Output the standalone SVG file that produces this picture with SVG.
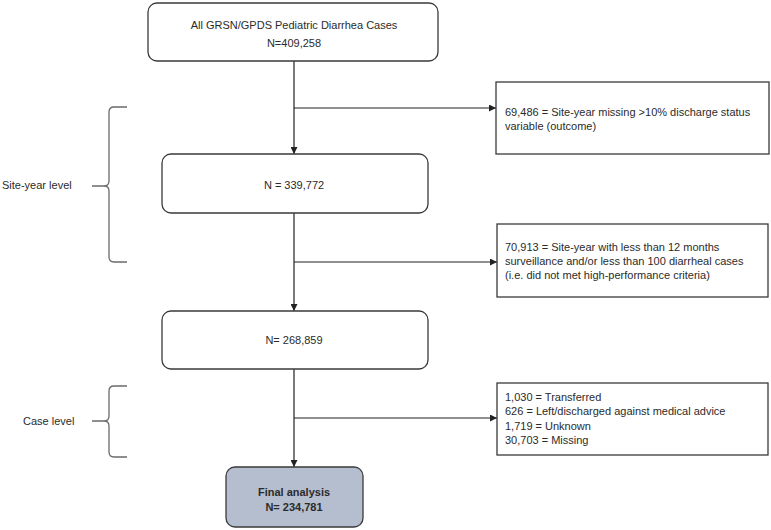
<svg xmlns="http://www.w3.org/2000/svg" width="771" height="530" viewBox="0 0 771 530">
<defs>
<style>
text{font-family:"Liberation Sans",Arial,sans-serif;font-size:11px;fill:#2b2b2b}
.c{text-anchor:middle}
.b{font-weight:bold}
.rr{fill:#fff;stroke:#3a3a3a;stroke-width:1.3}
.bx{fill:#fff;stroke:#3a3a3a;stroke-width:1.3}
.ln{fill:none;stroke:#222;stroke-width:1.2}
.br{fill:none;stroke:#6a6a6a;stroke-width:1.3}
</style>
<marker id="ah" viewBox="0 0 10 10" refX="10" refY="5" markerWidth="7" markerHeight="7" orient="auto" markerUnits="userSpaceOnUse">
<path d="M0,0 L10,5 L0,10 z" fill="#222"/>
</marker>
</defs>
<rect width="771" height="530" fill="#fff"/>
<g id="connectors">
<line class="ln" x1="294" y1="61" x2="294" y2="154" marker-end="url(#ah)"/>
<line class="ln" x1="294" y1="213" x2="294" y2="311" marker-end="url(#ah)"/>
<line class="ln" x1="294" y1="369" x2="294" y2="467" marker-end="url(#ah)"/>
<line class="ln" x1="294" y1="108" x2="496" y2="108" marker-end="url(#ah)"/>
<line class="ln" x1="294" y1="262" x2="497" y2="262" marker-end="url(#ah)"/>
<line class="ln" x1="294" y1="418" x2="497" y2="418" marker-end="url(#ah)"/>
</g>
<g id="n-all">
<rect class="rr" x="148" y="3" width="290" height="58" rx="9"/>
<text class="c" x="294" y="29">All GRSN/GPDS Pediatric Diarrhea Cases</text>
<text class="c" x="294" y="47">N=409,258</text>
</g>
<g id="n-339">
<rect class="rr" x="162" y="154" width="266" height="59" rx="9"/>
<text class="c" x="294" y="189">N = 339,772</text>
</g>
<g id="n-268">
<rect class="rr" x="162" y="311" width="266" height="58" rx="9"/>
<text class="c" x="294" y="344">N= 268,859</text>
</g>
<g id="n-final">
<rect x="226" y="467" width="137" height="60" rx="9" fill="#b4bece" stroke="#3a3a3a" stroke-width="1.3"/>
<text class="c b" x="294" y="496">Final analysis</text>
<text class="c b" x="294" y="511">N= 234,781</text>
</g>
<g id="x-1">
<rect class="bx" x="496" y="82" width="273" height="72"/>
<text x="505" y="116">69,486 = Site-year missing &gt;10% discharge status</text>
<text x="505" y="130">variable (outcome)</text>
</g>
<g id="x-2">
<rect class="bx" x="497" y="224" width="271" height="73"/>
<text x="505" y="251">70,913 = Site-year with less than 12 months</text>
<text x="505" y="265">surveillance and/or less than 100 diarrheal cases</text>
<text x="505" y="279">(i.e. did not met high-performance criteria)</text>
</g>
<g id="x-3">
<rect class="bx" x="497" y="383" width="271" height="72"/>
<text x="505" y="401">1,030 = Transferred</text>
<text x="505" y="415">626 = Left/discharged against medical advice</text>
<text x="505" y="430">1,719 = Unknown</text>
<text x="505" y="444">30,703 = Missing</text>
</g>
<g id="brace-site">
<path class="br" d="M127,107 L114,107 Q109,107 109,112 L109,181 Q109,186 104,186 L92,186 M104,186 Q109,186 109,191 L109,257 Q109,262 114,262 L127,262"/>
<text x="2" y="189">Site-year level</text>
</g>
<g id="brace-case">
<path class="br" d="M127,386 L114,386 Q109,386 109,391 L109,416 Q109,421 104,421 L92,421 M104,421 Q109,421 109,426 L109,452 Q109,457 114,457 L127,457"/>
<text x="23" y="425">Case level</text>
</g>
</svg>
